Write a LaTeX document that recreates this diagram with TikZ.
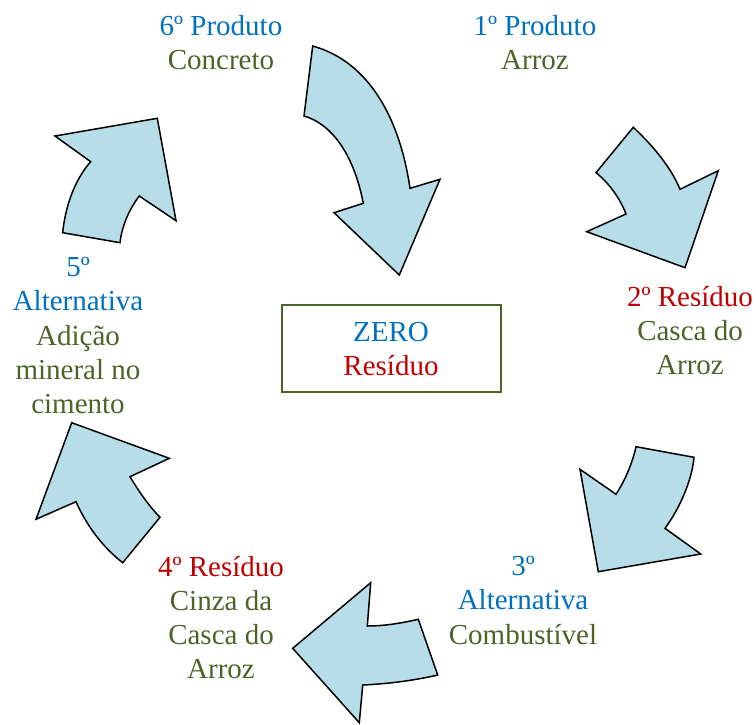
\documentclass[tikz,border=0pt]{standalone}
\usepackage{fontspec}
\setmainfont{Liberation Serif}
\definecolor{tblue}{HTML}{0070C0}
\definecolor{tred}{HTML}{C00000}
\definecolor{tgreen}{HTML}{4F6228}
\definecolor{afill}{HTML}{B7DEE8}
\begin{document}
\begin{tikzpicture}[x=1pt,y=-1pt,
  lbl/.style={font=\fontsize{29}{34}\selectfont, inner sep=0pt, anchor=base},
  arr/.style={draw=black, fill=afill, line width=1.5pt, line join=miter}]
\useasboundingbox (0,0) rectangle (756,724);

% arrows
\path[arr] (312.7,46) .. controls (370,62) and (400,120) .. (410,188.3)
  -- (440,179.3) -- (399.3,275) -- (334,212.7) -- (363.3,203.3)
  .. controls (355,160) and (335,125) .. (304,116) -- cycle;
\path[arr] (633.3,127.3) .. controls (650,143) and (670,165) .. (680,189.3)
  -- (718.3,170.7) -- (685,267.7) -- (586.7,231.7) -- (626,214)
  .. controls (620,198) and (608,182) .. (596,172.7) -- cycle;
\path[arr] (636,446.7) -- (694,457.3) .. controls (692,480) and (680,508) .. (665,528.3)
  -- (700.7,554) -- (598.3,571.7) -- (580,469.3) -- (616,494.3)
  .. controls (624,482) and (632,465) .. (636,446.7) -- cycle;
\path[arr] (418.3,619.3) -- (437.7,675) .. controls (412,681) and (385,684) .. (362.7,685)
  -- (359.3,722.7) -- (292.7,648.3) -- (370.7,582.7) -- (367.3,626)
  .. controls (385,626) and (402,623) .. (418.3,619.3) -- cycle;
\path[arr] (71.7,422.7) -- (169.3,458.3) -- (130,476.7)
  .. controls (138,490) and (148,505) .. (160,517.3)
  -- (122.7,562.7) .. controls (100,545) and (85,522) .. (76,501.7)
  -- (36,519.3) -- cycle;
\path[arr] (62.7,232.7) -- (120,242.7) .. controls (122,225) and (130,208) .. (139.3,196)
  -- (176,220.7) -- (157.3,118.3) -- (55,136) -- (90.7,161.7)
  .. controls (78,176) and (66,200) .. (62.7,232.7) -- cycle;

% central box
\node[draw=tgreen, line width=2.2pt, minimum width=219pt, minimum height=87pt, inner sep=0pt] (zbox) at (391.5,348.5) {};
\node[lbl, text=tblue] (z1) at (391,341.7) {ZERO};
\node[lbl, text=tred] (z2) at (391,375.9) {Resíduo};

% 6
\node[lbl, text=tblue] (p6a) at (221,35.5) {6º Produto};
\node[lbl, text=tgreen] (p6b) at (221,69.8) {Concreto};
% 1
\node[lbl, text=tblue] (p1a) at (535,35.5) {1º Produto};
\node[lbl, text=tgreen] (p1b) at (535,69.8) {Arroz};
% 2
\node[lbl, text=tred] (p2a) at (690,306) {2º Resíduo};
\node[lbl, text=tgreen] (p2b) at (690,340.3) {Casca do};
\node[lbl, text=tgreen] (p2c) at (690,374.6) {Arroz};
% 3
\node[lbl, text=tblue] (p3a) at (523,575.5) {3º};
\node[lbl, text=tblue] (p3b) at (523,609.8) {Alternativa};
\node[lbl, text=tgreen] (p3c) at (523,644.1) {Combustível};
% 4
\node[lbl, text=tred] (p4a) at (221,576) {4º Resíduo};
\node[lbl, text=tgreen] (p4b) at (221,610.3) {Cinza da};
\node[lbl, text=tgreen] (p4c) at (221,644.6) {Casca do};
\node[lbl, text=tgreen] (p4d) at (221,678.9) {Arroz};
% 5
\node[lbl, text=tblue] (p5a) at (78,276.5) {5º};
\node[lbl, text=tblue] (p5b) at (78,310.8) {Alternativa};
\node[lbl, text=tgreen] (p5c) at (78,345.1) {Adição};
\node[lbl, text=tgreen] (p5d) at (78,379.4) {mineral no};
\node[lbl, text=tgreen] (p5e) at (78,413.7) {cimento};
\end{tikzpicture}
\end{document}
